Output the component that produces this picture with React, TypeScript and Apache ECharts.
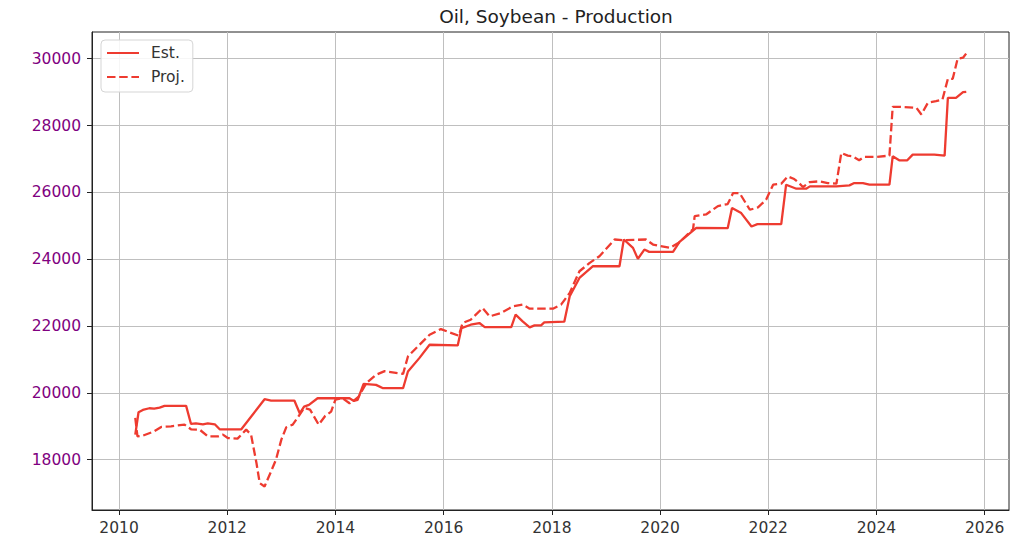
import React, { useEffect, useRef } from "react";
import * as echarts from "echarts";

const titleText = "Oil, Soybean - Production";
const seriesNames = ["Est.", "Proj."];
const xTickValues = [2010, 2012, 2014, 2016, 2018, 2020, 2022, 2024, 2026];
const yTickValues = [18000, 20000, 22000, 24000, 26000, 28000, 30000];

const estYears = [
  2010.30, 2010.36, 2010.44, 2010.56, 2010.65, 2010.75, 2010.84, 2011.24, 2011.33, 2011.42,
  2011.55, 2011.64, 2011.77, 2011.86, 2012.26, 2012.69, 2012.81, 2013.24, 2013.34, 2013.42,
  2013.51, 2013.67, 2014.26, 2014.34, 2014.41, 2014.52, 2014.75, 2014.88, 2015.25, 2015.34,
  2015.55, 2015.74, 2016.26, 2016.33, 2016.50, 2016.66, 2016.76, 2017.25, 2017.33, 2017.46,
  2017.59, 2017.68, 2017.80, 2017.86, 2018.23, 2018.33, 2018.51, 2018.76, 2019.25, 2019.33,
  2019.50, 2019.59, 2019.71, 2019.80, 2020.24, 2020.36, 2020.67, 2021.25, 2021.33, 2021.50,
  2021.69, 2021.80, 2022.24, 2022.33, 2022.52, 2022.70, 2022.77, 2023.26, 2023.50, 2023.59,
  2023.75, 2023.87, 2024.24, 2024.30, 2024.42, 2024.57, 2024.67, 2025.07, 2025.26, 2025.32,
  2025.47, 2025.60, 2025.66,
];
const estValues = [
  18750, 19420, 19490, 19540, 19530, 19560, 19610, 19610, 19070, 19090,
  19060, 19090, 19060, 18910, 18910, 19810, 19770, 19770, 19390, 19590,
  19640, 19840, 19840, 19760, 19790, 20270, 20240, 20140, 20140, 20640,
  21040, 21440, 21420, 21940, 22040, 22090, 21970, 21970, 22340, 22140,
  21960, 22020, 22020, 22110, 22130, 22890, 23440, 23790, 23790, 24590,
  24340, 24010, 24290, 24220, 24220, 24520, 24940, 24930, 25530, 25380,
  24980, 25050, 25050, 26230, 26110, 26110, 26180, 26180, 26210, 26280,
  26280, 26230, 26230, 27080, 26960, 26960, 27130, 27130, 27100, 28830,
  28830, 29000, 29010,
];

const projYears = [
  2010.30, 2010.34, 2010.44, 2010.65, 2010.78, 2010.96, 2011.21, 2011.33, 2011.49, 2011.64,
  2011.83, 2011.92, 2012.01, 2012.19, 2012.35, 2012.44, 2012.54, 2012.60, 2012.69, 2012.81,
  2012.90, 2013.00, 2013.09, 2013.21, 2013.31, 2013.42, 2013.53, 2013.69, 2013.81, 2013.92,
  2014.00, 2014.13, 2014.26, 2014.34, 2014.43, 2014.57, 2014.75, 2014.91, 2015.25, 2015.34,
  2015.43, 2015.74, 2015.95, 2016.11, 2016.28, 2016.35, 2016.50, 2016.72, 2016.85, 2017.06,
  2017.28, 2017.46, 2017.59, 2018.02, 2018.17, 2018.33, 2018.51, 2018.70, 2018.88, 2019.16,
  2019.32, 2019.74, 2019.87, 2020.18, 2020.36, 2020.61, 2020.64, 2020.85, 2021.07, 2021.25,
  2021.35, 2021.47, 2021.66, 2021.81, 2021.96, 2022.09, 2022.24, 2022.36, 2022.48, 2022.57,
  2022.64, 2022.77, 2022.94, 2023.10, 2023.26, 2023.35, 2023.47, 2023.56, 2023.68, 2023.77,
  2023.99, 2024.24, 2024.30, 2024.42, 2024.74, 2024.83, 2024.95, 2025.10, 2025.22, 2025.32,
  2025.41, 2025.50, 2025.60, 2025.66,
];
const projValues = [
  19250, 18700, 18720, 18850, 18980, 19000, 19050, 18910, 18900, 18700,
  18700, 18750, 18650, 18630, 18900, 18750, 17900, 17300, 17200, 17650,
  18000, 18600, 18970, 19050, 19280, 19550, 19500, 19050, 19310, 19440,
  19800, 19840, 19690, 19770, 19890, 20290, 20540, 20650, 20570, 21090,
  21240, 21740, 21910, 21810, 21710, 22090, 22190, 22540, 22290, 22390,
  22590, 22640, 22520, 22520, 22640, 22990, 23640, 23890, 24090, 24590,
  24570, 24590, 24440, 24340, 24510, 24900, 25290, 25340, 25590, 25650,
  25980, 25980, 25480, 25550, 25780, 26230, 26260, 26480, 26400, 26280,
  26160, 26310, 26330, 26280, 26260, 27180, 27100, 27080, 26960, 27060,
  27060, 27100, 28560, 28560, 28530, 28330, 28680, 28730, 28780, 29400,
  29400, 30000, 30030, 30160,
];

const LINE_COLOR = "#ee3b30";
const FONT = "DejaVu Sans";

export default function App() {
  const ref = useRef<HTMLDivElement>(null);
  useEffect(() => {
    if (!ref.current) return;
    const chart = echarts.init(ref.current, undefined, { renderer: "svg" });
    const estData = estYears.map((x, i) => [x, estValues[i]]);
    const projData = projYears.map((x, i) => [x, projValues[i]]);
    chart.setOption({
      animation: false,
      backgroundColor: "#ffffff",
      title: {
        text: titleText,
        left: 551,
        top: 2,
        textAlign: "center",
        textStyle: { fontFamily: FONT, fontSize: 18.5, fontWeight: "normal", color: "#222" },
      },
      grid: {
        left: 92,
        right: 15,
        top: 32,
        bottom: 39,
        show: true,
        borderColor: "#222",
        borderWidth: 1,
        backgroundColor: "transparent",
      },
      legend: {
        left: 101,
        top: 40,
        orient: "vertical",
        data: seriesNames,
        itemWidth: 32,
        itemHeight: 14,
        itemGap: 8,
        padding: [5, 8, 7, 5],
        backgroundColor: "rgba(255,255,255,0.85)",
        borderColor: "#d5d5d5",
        borderWidth: 1,
        borderRadius: 4,
        itemStyle: { opacity: 0 },
        textStyle: { fontFamily: FONT, fontSize: 15.5, color: "#333", lineHeight: 16, padding: [0, 0, 0, 7] },
      },
      xAxis: {
        type: "value",
        min: 2009.5,
        max: 2026.45,
        splitNumber: 8,
        axisLine: { show: true, lineStyle: { color: "#222", width: 1 } },
        axisTick: { show: true, length: 5, lineStyle: { color: "#222" }, customValues: xTickValues },
        axisLabel: {
          customValues: xTickValues,
          margin: 10,
          fontFamily: FONT,
          fontSize: 15.5,
          color: "#333",
          formatter: (v: number) => String(v),
        },
        splitLine: { show: true, lineStyle: { color: "#bfbfbf", width: 1 } },
      },
      yAxis: {
        type: "value",
        min: 16495,
        max: 30800,
        splitNumber: 7,
        axisLine: { show: true, lineStyle: { color: "#222", width: 1 } },
        axisTick: { show: true, length: 5, lineStyle: { color: "#222" }, customValues: yTickValues },
        axisLabel: {
          customValues: yTickValues,
          margin: 11,
          fontFamily: FONT,
          fontSize: 15.5,
          color: "#800080",
          formatter: (v: number) => String(v),
        },
        splitLine: { show: true, lineStyle: { color: "#bfbfbf", width: 1 } },
      },
      series: [
        {
          name: seriesNames[0],
          type: "line",
          data: estData,
          symbol: "none",
          lineStyle: { color: LINE_COLOR, width: 2.3 },
          itemStyle: { color: LINE_COLOR },
        },
        {
          name: seriesNames[1],
          type: "line",
          data: projData,
          symbol: "none",
          lineStyle: { color: LINE_COLOR, width: 2.3, type: [8.5, 3.7] },
          itemStyle: { color: LINE_COLOR },
        },
      ],
    });
    return () => chart.dispose();
  }, []);
  return (
    <div
      ref={ref}
      style={{ position: "absolute", left: 0, top: 0, width: 1024, height: 549, background: "#fff" }}
    />
  );
}
